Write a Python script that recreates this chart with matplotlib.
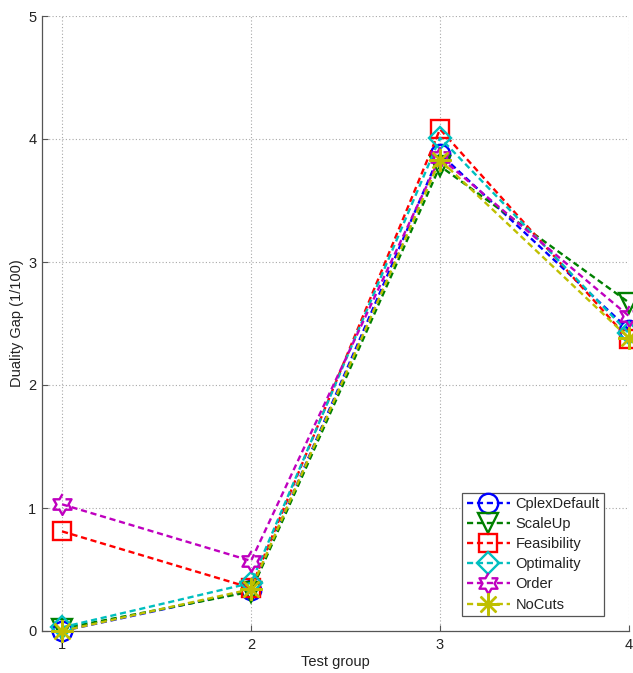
import numpy as np
import matplotlib
matplotlib.use('Agg')
import matplotlib.pyplot as plt

plt.rcParams['font.family'] = ['Liberation Sans', 'DejaVu Sans']

groups = [1, 2, 3, 4]
series_names = ['CplexDefault', 'ScaleUp', 'Feasibility', 'Optimality', 'Order', 'NoCuts']
cplex_default = [0.00, 0.33, 3.88, 2.45]
scale_up = [0.02, 0.32, 3.78, 2.67]
feasibility = [0.81, 0.35, 4.08, 2.37]
optimality = [0.03, 0.39, 4.01, 2.42]
order = [1.03, 0.57, 3.85, 2.56]
no_cuts = [0.00, 0.34, 3.83, 2.38]

# hexagram marker like MATLAB's 'h'
ang = np.pi / 2 + np.arange(12) * np.pi / 6
rad = np.where(np.arange(12) % 2 == 0, 1.0, 0.577)
hexagram = np.column_stack([rad * np.cos(ang), rad * np.sin(ang)])

values = [cplex_default, scale_up, feasibility, optimality, order, no_cuts]
colors = [(0, 0, 1), (0, 0.5, 0), (1, 0, 0), (0, 0.75, 0.75), (0.75, 0, 0.75), (0.75, 0.75, 0)]
markers = ['o', 'v', 's', 'D', hexagram, (8, 2, 0)]
sizes = [14, 15, 13, 11, 15, 16]

fig = plt.figure(figsize=(6.33, 6.73), dpi=100)
ax = fig.add_axes([42 / 633, 42 / 673, 587 / 633, 615 / 673])

for name, vals, c, m, s in zip(series_names, values, colors, markers, sizes):
    ax.plot(groups, vals, linestyle='--', dashes=(2.6, 1.6), color=c, linewidth=1.7,
            marker=m, markersize=s, markerfacecolor='none', markeredgecolor=c,
            markeredgewidth=1.7, label=name, clip_on=False, zorder=3)

ax.set_xlim(0.894, 4.0)
ax.set_ylim(0, 5)
ax.set_xticks([1, 2, 3, 4])
ax.set_yticks([0, 1, 2, 3, 4, 5])
ax.grid(True, linestyle=(0, (1, 2)), color='#a8a8a8', linewidth=0.8)
ax.tick_params(direction='in', length=4, width=0.8, labelsize=10.5, color='#555555',
               labelcolor='#222222', pad=5)
ax.tick_params(axis='y', pad=4)
for side in ['top', 'right']:
    ax.spines[side].set_visible(False)
for side in ['left', 'bottom']:
    ax.spines[side].set_color('#555555')
    ax.spines[side].set_linewidth(0.9)

ax.set_xlabel('Test group', fontsize=10.5, labelpad=2, color='#222222')
ax.set_ylabel('Duality Gap (1/100)', fontsize=10.5, labelpad=3, color='#222222')

leg = ax.legend(loc='lower right', bbox_to_anchor=(562 / 587, 15 / 615), fontsize=10.5,
                fancybox=False, framealpha=1, edgecolor='#555555',
                handlelength=3.0, borderpad=0.3, labelspacing=0.42, handletextpad=0.35,
                borderaxespad=0)
leg.get_frame().set_linewidth(0.9)
for t in leg.get_texts():
    t.set_color('#222222')

fig.savefig('out.png', dpi=100)
